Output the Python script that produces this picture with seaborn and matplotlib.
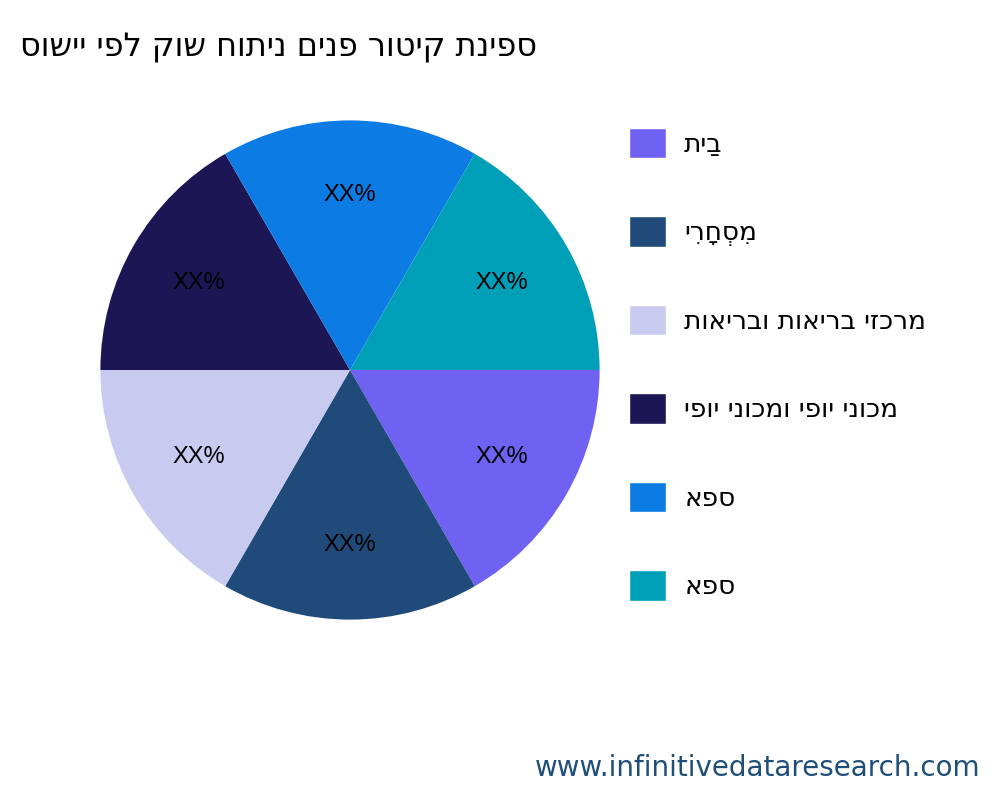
import numpy as np
import matplotlib
matplotlib.use("Agg")
import matplotlib.pyplot as plt
import seaborn as sns
from matplotlib.patches import Patch

sns.set_theme(style="white")
plt.rcParams['font.family'] = ['DejaVu Sans']
plt.rcParams['text.color'] = 'black'

title = "סושיי יפל קוש חותינ םינפ רוטיק תניפס"
categories = ["תיַב", "יִרָחְסִמ", "תואירבו תואירב יזכרמ", "יפוי ינוכמו יפוי ינוכמ", "אפס", "אפס"]
values = [1, 1, 1, 1, 1, 1]
colors = ["#6f61f2", "#1f4a7a", "#c9caf0", "#1c1655", "#0c7be4", "#009fb8"]

fig = plt.figure(figsize=(10, 8), dpi=100)
ax = fig.add_axes([0.0375, 0.1475, 0.625, 0.78])
ax.pie(values, colors=colors, startangle=0, counterclock=False,
       autopct=lambda p: "XX%", pctdistance=0.7,
       wedgeprops=dict(linewidth=0),
       textprops=dict(fontsize=17, color="black", family=['Liberation Sans', 'DejaVu Sans']))
ax.set_aspect("equal")

fig.text(0.02, 0.94, title, fontsize=23, va="center", ha="left", color="black")

handles = [Patch(facecolor=c) for c in colors]
fig.legend(handles, categories, loc="upper left", bbox_to_anchor=(0.605, 0.87),
           frameon=False, fontsize=19, handlelength=1.4, handleheight=1.4,
           labelspacing=2.2, handletextpad=0.7, labelcolor="black")

fig.text(0.98, 0.04, "www.infinitivedataresearch.com", fontsize=20,
         color="#1f4e79", ha="right", va="center")

fig.savefig("out.png")
